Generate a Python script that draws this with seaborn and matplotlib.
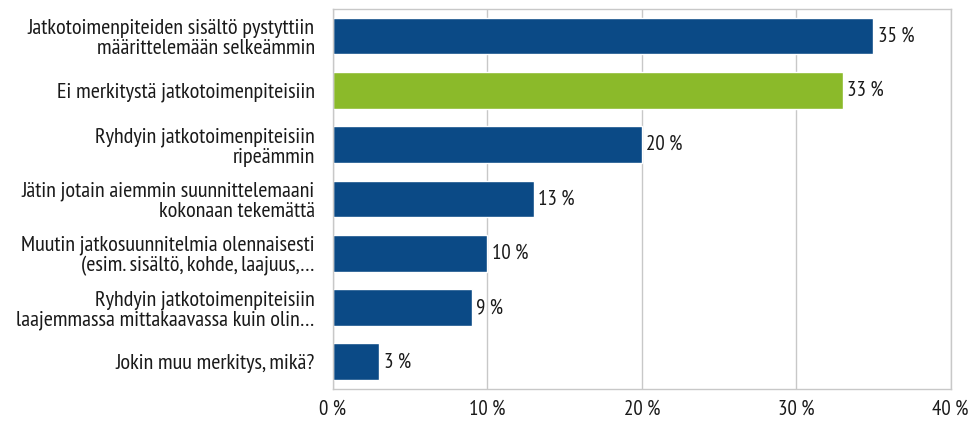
import matplotlib
matplotlib.use("Agg")
import matplotlib.pyplot as plt
import seaborn as sns

categories = [
    "Jatkotoimenpiteiden sisältö pystyttiin\nmäärittelemään selkeämmin",
    "Ei merkitystä jatkotoimenpiteisiin",
    "Ryhdyin jatkotoimenpiteisiin\nripeämmin",
    "Jätin jotain aiemmin suunnittelemaani\nkokonaan tekemättä",
    "Muutin jatkosuunnitelmia olennaisesti\n(esim. sisältö, kohde, laajuus,…",
    "Ryhdyin jatkotoimenpiteisiin\nlaajemmassa mittakaavassa kuin olin…",
    "Jokin muu merkitys, mikä?",
]
values = [35, 33, 20, 13, 10, 9, 3]
colors = ["#0B4A86", "#8BBA2A", "#0B4A86", "#0B4A86", "#0B4A86", "#0B4A86", "#0B4A86"]
xticks = [0, 10, 20, 30, 40]

sns.set_style("white")
plt.rcParams["font.family"] = ["PT Sans Narrow", "DejaVu Sans"]

fig = plt.figure(figsize=(9.79, 4.22), dpi=100)
ax = fig.add_axes([0.340, 0.078, 0.631, 0.901])

sns.barplot(x=values, y=categories, hue=categories, palette=colors,
            orient="h", width=0.68, legend=False, ax=ax, saturation=1)

ax.set_xlim(0, 40)
ax.set_xticks(xticks)
ax.set_xticklabels([f"{t} %" for t in xticks], fontsize=15, color="#1a1a1a")
ax.tick_params(axis="y", labelsize=16, colors="#1a1a1a", length=0, pad=13)
ax.tick_params(axis="x", length=0, pad=8)
for lbl in ax.get_yticklabels():
    lbl.set_horizontalalignment("right")
    lbl.set_multialignment("right")
    lbl.set_linespacing(1.05)
ax.set_xlabel("")
ax.set_ylabel("")
ax.grid(axis="x", color="#c8c8c8", linewidth=1)
ax.set_axisbelow(True)
for s in ax.spines.values():
    s.set_color("#c8c8c8")
    s.set_linewidth(1)

for i, v in enumerate(values):
    ax.text(v + 0.3, i, f"{v} %", va="center", ha="left", fontsize=15, color="#1a1a1a")

fig.savefig("out.png", dpi=100)
